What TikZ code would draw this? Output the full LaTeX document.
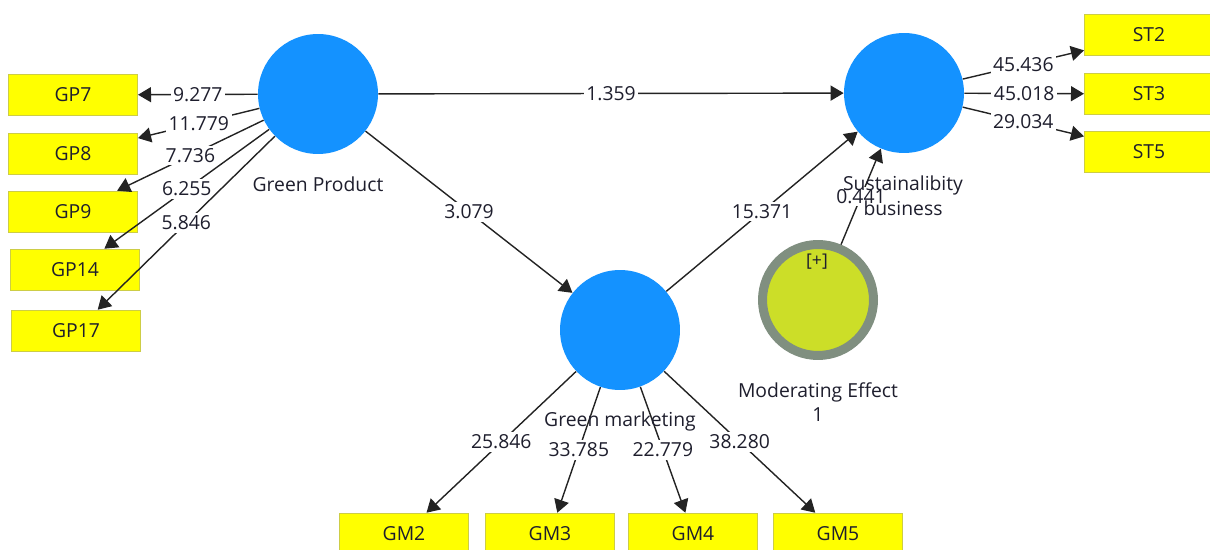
\documentclass[tikz,border=0pt]{standalone}
\usepackage{fontspec}
\setmainfont{Open Sans}
\usetikzlibrary{arrows.meta}
\definecolor{lvblue}{RGB}{20,146,255}
\definecolor{mvyellow}{RGB}{255,255,0}
\definecolor{mvborder}{RGB}{205,205,70}
\definecolor{modfill}{RGB}{204,222,40}
\definecolor{modring}{RGB}{128,143,128}
\definecolor{linegray}{RGB}{35,35,35}
\definecolor{txt}{RGB}{30,30,45}
\begin{document}
\begin{tikzpicture}[x=0.02cm,y=-0.02cm,
    font=\fontsize{11}{14}\selectfont,text=txt,
    lv/.style={circle,fill=lvblue,minimum size=2.4cm,inner sep=0pt},
    mod/.style={circle,fill=modfill,draw=modring,line width=0.18cm,minimum size=2.22cm,inner sep=0pt},
    mv/.style={rectangle,fill=mvyellow,draw=mvborder,line width=0.6pt,minimum width=2.58cm,minimum height=0.83cm,inner sep=0pt},
    link/.style={draw=linegray,line width=0.8pt,-{Triangle[length=0.26cm,width=0.3cm]}},
    val/.style={fill=white,inner sep=1.5pt,pos=0.5}]
      \clip (0,0) rectangle (1210,550);
      \draw
        (318,94) node[lv] (gp){}
        (904,93) node[lv] (sb){}
        (620,330) node[lv] (gm){}
        (818,300) node[mod] (me){}
        (73,95) node[mv] (gp7){GP7}
        (73,154) node[mv] (gp8){GP8}
        (73,212) node[mv] (gp9){GP9}
        (75,270) node[mv] (gp14){GP14}
        (76,331) node[mv] (gp17){GP17}
        (1149,35) node[mv] (st2){ST2}
        (1149,94) node[mv] (st3){ST3}
        (1149,152) node[mv] (st5){ST5}
        (404,534) node[mv] (gm2){GM2}
        (550,534) node[mv] (gm3){GM3}
        (693,534) node[mv] (gm4){GM4}
        (838,534) node[mv] (gm5){GM5};
      \begin{scope}[link]
        \draw (gp) to node[val]{9.277} (gp7);
        \draw (gp) to node[val]{11.779} (gp8);
        \draw (gp) to node[val]{7.736} (gp9);
        \draw (gp) to node[val]{6.255} (gp14);
        \draw (gp) to node[val]{5.846} (gp17);
        \draw (gp) to node[val]{1.359} (sb);
        \draw (gp) to node[val]{3.079} (gm);
        \draw (gm) to node[val]{15.371} (sb);
        \draw (me) to node[val]{0.441} (sb);
        \draw (sb) to node[val]{45.436} (st2);
        \draw (sb) to node[val]{45.018} (st3);
        \draw (sb) to node[val]{29.034} (st5);
        \draw (gm) to node[val]{25.846} (gm2);
        \draw (gm) to node[val]{33.785} (gm3);
        \draw (gm) to node[val]{22.779} (gm4);
        \draw (gm) to node[val]{38.280} (gm5);
      \end{scope}
      \draw
        (318,184) node (gplab){Green Product}
        (903,196) node[align=center] (sblab){Sustainalibity\\business}
        (620,421) node (gmlab){Green marketing}
        (818,402) node[align=center] (melab){Moderating Effect\\1}
        (817,262) node[font=\fontsize{10}{12}\selectfont] (meplus){[+]};
    \end{tikzpicture}
\end{document}
